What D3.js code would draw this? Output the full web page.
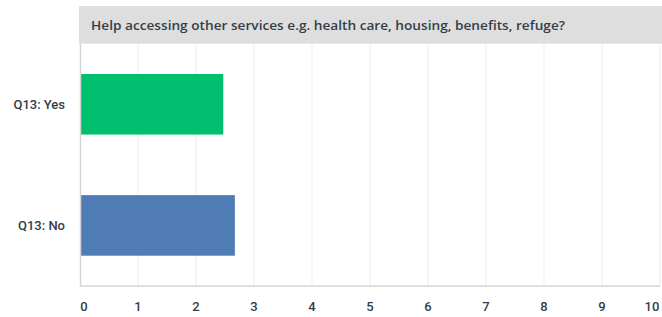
<!DOCTYPE html>
<html><head><meta charset="utf-8">
<script src="https://cdn.jsdelivr.net/npm/d3@7"></script>
<style>body{margin:0;background:#fff;} svg{display:block;font-family:Roboto, "Noto Sans", sans-serif;}</style>
</head><body>
<script>
const title = "Help accessing other services e.g. health care, housing, benefits, refuge?";
const categories = ["Q13: Yes", "Q13: No"];
const values = [2.47, 2.67];
const colors = ["#00bf6f", "#507cb6"];
const ticks = [0,1,2,3,4,5,6,7,8,9,10];

const W = 662, H = 317;
const svg = d3.select("body").append("svg").attr("width", W).attr("height", H);
const x = d3.scaleLinear().domain([0,10]).range([80, 660]);
const y = d3.scaleBand().domain(categories).range([43.7, 286]).paddingInner(0.5).paddingOuter(0.25);

// header
svg.append("rect").attr("x", 79).attr("y", 6).attr("width", W-79).attr("height", 37.7).attr("fill", "#dedede");
const t = svg.append("text").attr("x", 91).attr("y", 29.5).attr("fill", "#333e48")
  .attr("font-family", "'Open Sans', Roboto, sans-serif")
  .attr("font-size", 13).attr("font-weight", 600).text(title);
const tw = t.node().getComputedTextLength();
if (Math.abs(tw - 474) > 4) t.attr("textLength", 474).attr("lengthAdjust", "spacingAndGlyphs");

// gridlines
svg.append("g").selectAll("line").data(ticks.slice(1)).join("line")
  .attr("x1", d=>x(d)).attr("x2", d=>x(d)).attr("y1", 43.7).attr("y2", 286)
  .attr("stroke", "#ededed").attr("stroke-width", 1);

// bars
svg.append("g").selectAll("rect").data(categories).join("rect")
  .attr("x", x(0)).attr("y", d=>y(d)).attr("height", y.bandwidth())
  .attr("width", (d,i)=>x(values[i])-x(0)).attr("fill", (d,i)=>colors[i]);

// axis lines
svg.append("line").attr("x1", 80.5).attr("x2", 80.5).attr("y1", 43.7).attr("y2", 286.5).attr("stroke", "#d4d4d4").attr("stroke-width", 1.5);
svg.append("line").attr("x1", 80).attr("x2", 660).attr("y1", 286).attr("y2", 286).attr("stroke", "#d4d4d4").attr("stroke-width", 1.5);

// x tick labels
svg.append("g").selectAll("text").data(ticks).join("text")
  .attr("x", d=> d===0 ? x(d)+4 : d===10 ? x(d)-8 : x(d))
  .attr("y", 310.5).attr("text-anchor", "middle")
  .attr("fill", "#333e48").attr("font-size", 13).attr("font-weight", 500)
  .text(d=>d);

// category labels
svg.append("g").selectAll("text").data(categories).join("text")
  .attr("x", 65).attr("y", d=>y(d)+y.bandwidth()/2).attr("dy", "0.35em")
  .attr("text-anchor", "end").attr("fill", "#333e48").attr("font-size", 13).attr("font-weight", 500)
  .text(d=>d);
</script>
</body></html>
